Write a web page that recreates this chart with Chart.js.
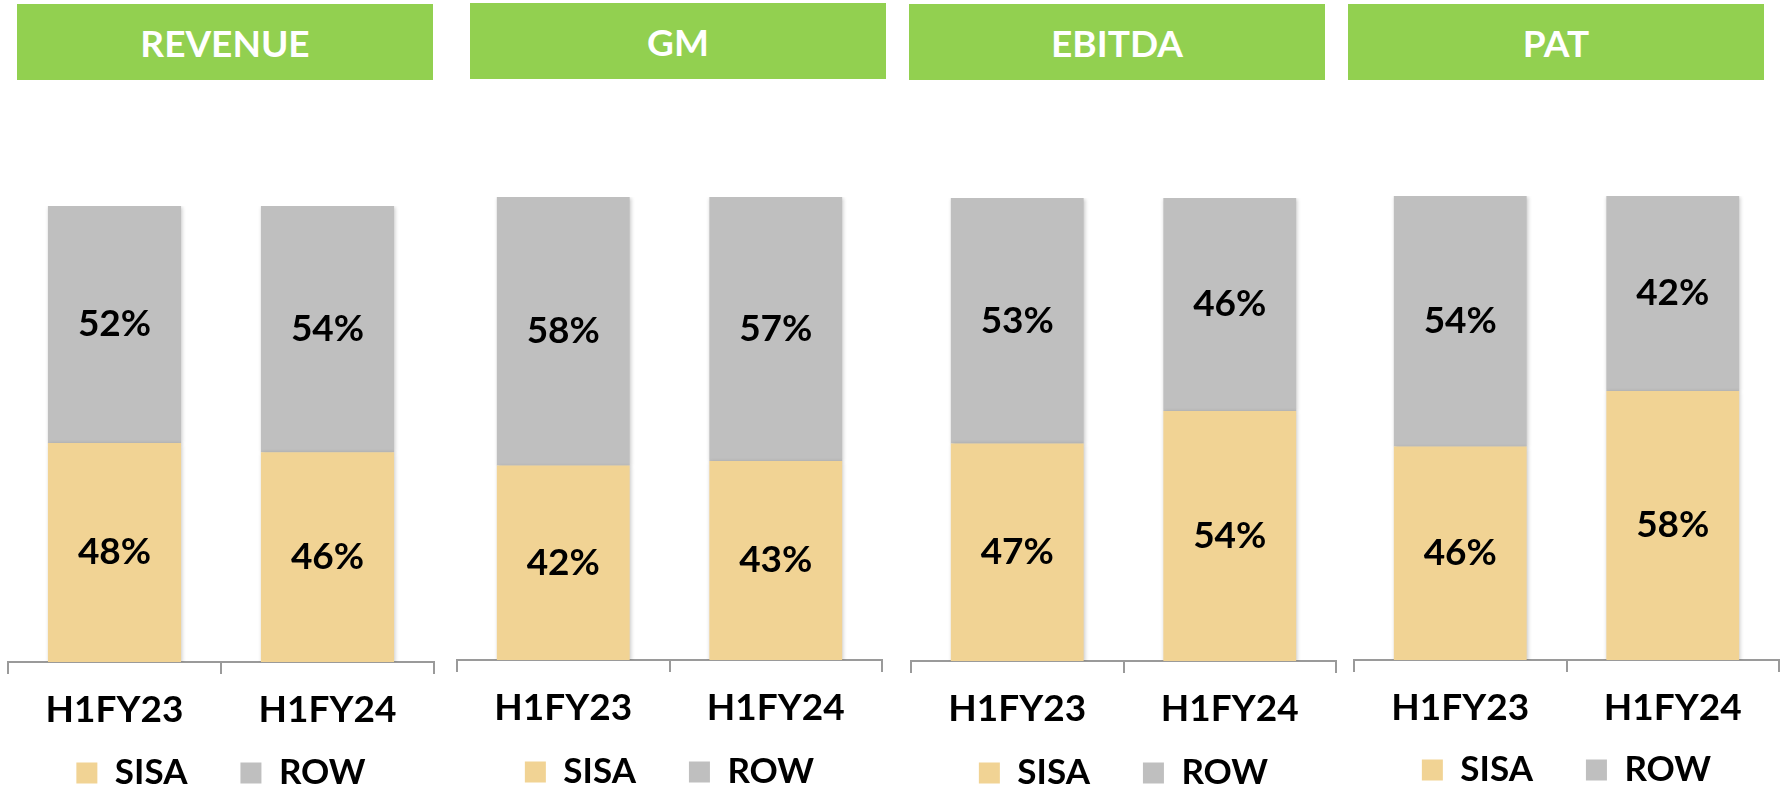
<!DOCTYPE html>
<html lang="en">
<head>
<meta charset="UTF-8">
<title>SISA vs ROW share</title>
<script src="https://cdn.jsdelivr.net/npm/chart.js@4.4.1/dist/chart.umd.min.js"></script>
<style>
  body {
    margin: 0;
    width: 1786px;
    height: 789px;
    overflow: hidden;
    background: #ffffff;
    position: relative;
    font-family: Lato, 'Noto Sans', sans-serif;
  }
  .head {
    position: absolute;
    width: 416px;
    height: 76px;
    background: #92D050;
    color: #ffffff;
    font: bold 37px Lato, sans-serif;
    display: flex;
    align-items: center;
    justify-content: center;
  }
  canvas {
    position: absolute;
    top: 0;
  }
</style>
</head>
<body>
<script>
  // data
  const metrics = ['REVENUE', 'GM', 'EBITDA', 'PAT'];
  const periods = ['H1FY23', 'H1FY24'];
  const seriesNames = ['SISA', 'ROW'];
  const sisaValues = [[48, 46], [42, 43], [47, 54], [46, 58]];
  const rowValues = [[52, 54], [58, 57], [53, 46], [54, 42]];

  const sisaColor = '#F1D394';
  const rowColor = '#BFBFBF';
  const axisColor = '#9a9a9a';

  // panel placement (pixels)
  const panels = [
    { headLeft: 17,   headTop: 4, axisLeft: 8,    axisRight: 434,  axisY: 662, barTop: 206, legendY: 773 },
    { headLeft: 470,  headTop: 3, axisLeft: 457,  axisRight: 882,  axisY: 660, barTop: 197, legendY: 772 },
    { headLeft: 909,  headTop: 4, axisLeft: 911,  axisRight: 1336, axisY: 661, barTop: 198, legendY: 773 },
    { headLeft: 1348, headTop: 4, axisLeft: 1354, axisRight: 1779, axisY: 660, barTop: 196, legendY: 770 }
  ];

  const canvasH = 850;
  const side = 10;
  const axisH = 75;
  const legendFont = 35;
  const legendPad = 53;
  const legendH = legendFont + legendPad + 10;

  // soft shadow under the bars
  const barShadow = {
    id: 'barShadow',
    beforeDatasetsDraw(chart) {
      const ctx = chart.ctx;
      ctx.save();
      ctx.shadowColor = 'rgba(0,0,0,0.22)';
      ctx.shadowBlur = 4;
      ctx.shadowOffsetX = 1;
      ctx.shadowOffsetY = 1;
    },
    afterDatasetsDraw(chart) {
      chart.ctx.restore();
    }
  };

  // percentage labels in the middle of each segment
  const segmentLabels = {
    id: 'segmentLabels',
    afterDraw(chart) {
      const ctx = chart.ctx;
      ctx.save();
      ctx.font = 'bold 37px Lato, sans-serif';
      ctx.fillStyle = '#000000';
      ctx.textAlign = 'center';
      ctx.textBaseline = 'middle';
      chart.data.datasets.forEach((ds, i) => {
        chart.getDatasetMeta(i).data.forEach((bar, j) => {
          const y = (bar.y + bar.base) / 2;
          ctx.fillText(ds.data[j] + '%', bar.x, y);
        });
      });
      ctx.restore();
    }
  };

  // the legend sits closer under the axis labels than its padding would put it
  const placeLegend = {
    id: 'placeLegend',
    afterLayout(chart, args, opts) {
      const lg = chart.legend;
      const top = opts.centerY - legendPad - legendFont / 2;
      lg.bottom = top + lg.height;
      lg.top = top;
    }
  };

  metrics.forEach((name, k) => {
    const p = panels[k];

    const head = document.createElement('div');
    head.className = 'head';
    head.style.left = p.headLeft + 'px';
    head.style.top = p.headTop + 'px';
    head.textContent = name;
    document.body.appendChild(head);

    const canvas = document.createElement('canvas');
    const w = p.axisRight - p.axisLeft + side * 2;
    canvas.width = w;
    canvas.height = canvasH;
    canvas.style.left = (p.axisLeft - side) + 'px';
    document.body.appendChild(canvas);

    new Chart(canvas.getContext('2d'), {
      type: 'bar',
      data: {
        labels: periods,
        datasets: [
          { label: seriesNames[0], data: sisaValues[k], backgroundColor: sisaColor },
          { label: seriesNames[1], data: rowValues[k], backgroundColor: rowColor }
        ]
      },
      options: {
        responsive: false,
        animation: false,
        devicePixelRatio: 1,
        barPercentage: 0.625,
        categoryPercentage: 1,
        layout: {
          padding: {
            left: side,
            right: side,
            top: p.barTop,
            bottom: canvasH - p.axisY - axisH - legendH
          }
        },
        scales: {
          x: {
            stacked: true,
            afterFit(scale) { scale.height = axisH; },
            grid: {
              display: true,
              offset: true,
              drawOnChartArea: false,
              drawTicks: true,
              tickLength: 12,
              color: axisColor,
              lineWidth: 2
            },
            border: { display: true, color: axisColor, width: 2 },
            ticks: {
              color: '#000000',
              padding: 14,
              font: { family: 'Lato', size: 37, weight: 'bold' }
            }
          },
          y: {
            stacked: true,
            display: false,
            min: 0,
            max: 100
          }
        },
        plugins: {
          legend: {
            position: 'bottom',
            labels: {
              boxWidth: 21,
              boxHeight: 21,
              padding: legendPad,
              color: '#000000',
              font: { family: 'Lato', size: legendFont, weight: 'bold' }
            }
          },
          placeLegend: { centerY: p.legendY },
          tooltip: { enabled: false }
        }
      },
      plugins: [barShadow, segmentLabels, placeLegend]
    });
  });
</script>
</body>
</html>
